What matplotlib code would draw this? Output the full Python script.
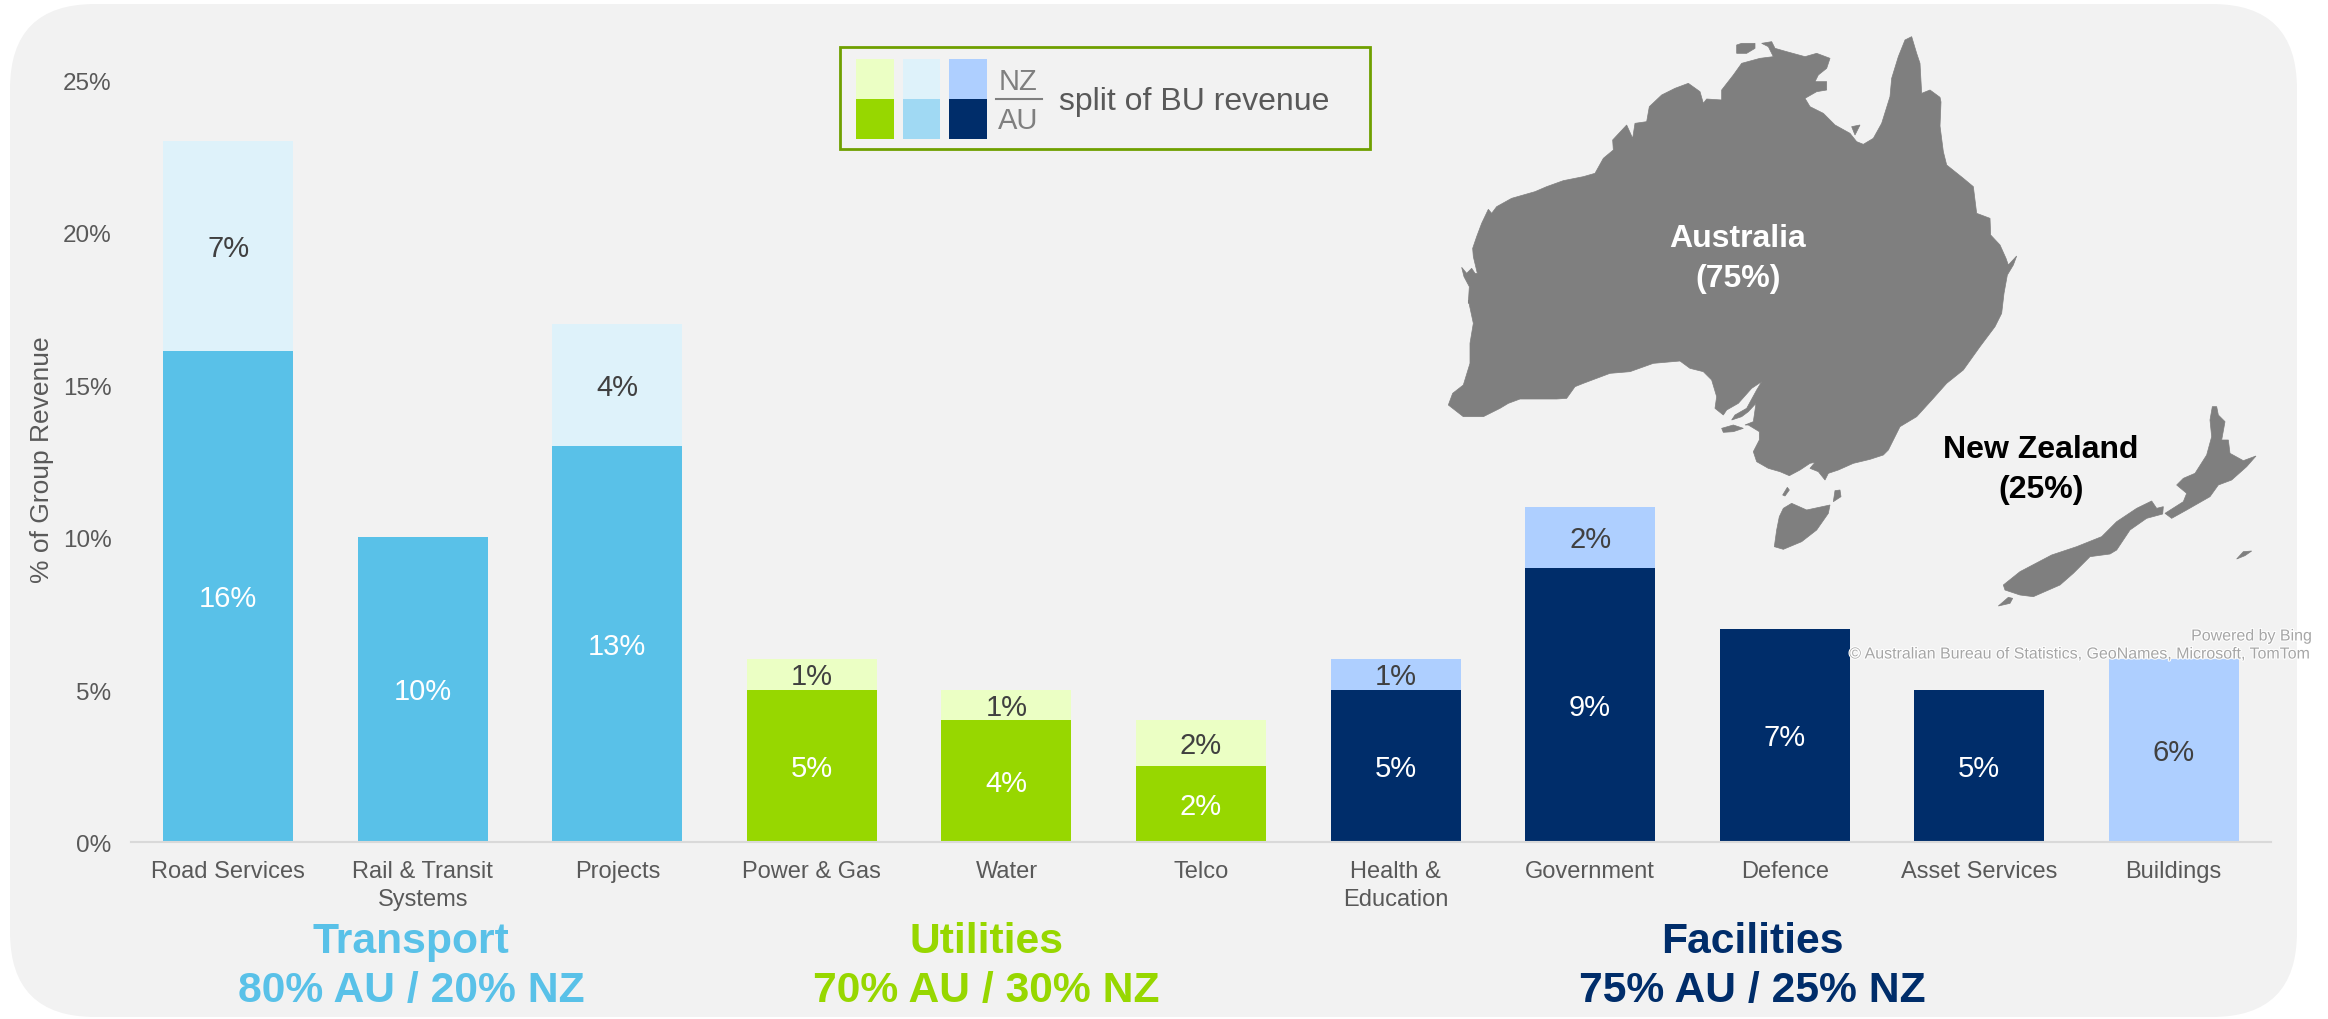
import numpy as np
import matplotlib
matplotlib.use('Agg')
import matplotlib.pyplot as plt
from matplotlib.patches import FancyBboxPatch, Polygon, Rectangle
from matplotlib.transforms import ScaledTranslation
import matplotlib.patheffects as pe

plt.rcParams['font.family'] = ['Liberation Sans', 'DejaVu Sans']

W, H = 2328, 1019

# Chart data
categories = ['Road Services', 'Rail & Transit\nSystems', 'Projects', 'Power & Gas', 'Water', 'Telco',
              'Health &\nEducation', 'Government', 'Defence', 'Asset Services', 'Buildings']
au_values = [16.1, 10, 13, 5, 4, 2.5, 5, 9, 7, 5, 0]
nz_values = [6.9, 0, 4, 1, 1, 1.5, 1, 2, 0, 0, 6]
au_labels = ['16%', '10%', '13%', '5%', '4%', '2%', '5%', '9%', '7%', '5%', '']
nz_labels = ['7%', '', '4%', '1%', '1%', '2%', '1%', '2%', '', '', '6%']
au_colors = ['#59C1E8'] * 3 + ['#97D700'] * 3 + ['#002D6A'] * 5
nz_colors = ['#DEF2FA'] * 3 + ['#EBFFC4'] * 3 + ['#AECFFF'] * 5
y_ticks = [0, 5, 10, 15, 20, 25]

groups = ['Transport', 'Utilities', 'Facilities']
group_splits = ['80% AU / 20% NZ', '70% AU / 30% NZ', '75% AU / 25% NZ']
group_colors = ['#59C1E8', '#97D700', '#002D6A']
group_x = [411, 986, 1752]

aus_north = [(85, 880), (88, 830), (72, 800), (65, 772), (80, 790), (95, 775), (105, 790), (112, 790), (100, 740),
             (98, 715), (110, 680), (125, 640), (145, 598), (155, 610), (170, 590), (215, 565), (285, 545),
             (320, 530), (370, 512), (430, 500), (465, 490), (490, 445), (520, 420), (518, 390), (560, 345),
             (578, 385), (585, 340), (620, 335), (628, 290), (665, 255), (705, 235), (745, 220), (780, 245),
             (790, 280), (800, 267), (845, 270), (845, 240), (880, 195), (905, 160), (960, 145), (1000, 140),
             (985, 110), (965, 100), (995, 95), (1005, 115), (1040, 125), (1095, 140), (1130, 130), (1170, 145),
             (1160, 175), (1135, 195), (1125, 215), (1160, 215), (1160, 240), (1130, 245), (1095, 265),
             (1110, 290), (1150, 310), (1185, 345), (1230, 370), (1250, 395), (1270, 403), (1300, 385),
             (1325, 340), (1350, 260), (1355, 205), (1375, 140), (1395, 90), (1415, 80), (1430, 130), (1440, 160),
             (1445, 250), (1470, 240), (1500, 262)]
aus_east = [(423, -144), (420, -72), (430, 5), (440, 45), (490, 85), (520, 110), (530, 190), (570, 205), (572, 255),
            (600, 285), (618, 325), (625, 345), (650, 318), (640, 345), (622, 375), (612, 430), (605, 490),
            (585, 530), (540, 590), (490, 660), (440, 700), (400, 745), (350, 800), (300, 830), (265, 900)]
aus_south = [(1330, 465), (1290, 478), (1240, 490), (1195, 510), (1165, 520), (1155, 540), (1135, 515), (1110, 505),
             (1125, 487), (1110, 490), (1080, 510), (1048, 527), (1020, 515), (985, 505), (950, 485), (940, 455),
             (958, 420), (958, 395), (925, 375), (915, 375), (940, 365), (948, 310), (925, 335), (905, 350),
             (875, 360), (885, 345), (920, 325), (950, 270), (965, 245), (935, 265), (895, 310), (860, 330),
             (850, 345), (825, 325), (830, 290), (815, 240), (790, 215), (750, 205), (720, 183), (640, 190),
             (570, 215), (510, 220), (430, 250), (405, 260), (380, 295), (350, 297), (310, 297), (240, 297),
             (205, 310), (180, 325), (130, 350), (70, 350), (25, 315), (38, 280), (70, 255), (90, 190), (90, 130),
             (100, 70), (85, 0)]
melville = [(890, 105), (905, 100), (945, 100), (945, 115), (920, 130), (890, 130)]
groote = [(1235, 350), (1260, 345), (1245, 375)]
kangaroo = [(845, 385), (880, 375), (910, 385), (880, 395), (850, 397)]
tasmania = [(1030, 625), (1055, 610), (1100, 630), (1170, 615), (1165, 640), (1130, 690), (1085, 725), (1030, 748),
            (1003, 740), (1010, 690), (1018, 650)]
king_island = [(1028, 585), (1042, 562), (1048, 570), (1035, 588)]
flinders = [(1180, 605), (1185, 572), (1200, 570), (1203, 590)]
nz_north = [(697, 50), (710, 50), (715, 75), (735, 95), (725, 150), (745, 150), (750, 190), (790, 212), (828, 198),
            (800, 230), (755, 270), (715, 285), (690, 320), (620, 360), (575, 385), (555, 370), (610, 335),
            (620, 310), (590, 285), (610, 265), (645, 250), (680, 195), (695, 140), (690, 90)]
nz_south = [(515, 333), (530, 355), (550, 350), (548, 372), (500, 385), (450, 420), (410, 480), (390, 492),
            (330, 500), (280, 550), (240, 585), (160, 620), (120, 615), (75, 600), (70, 585), (120, 545),
            (215, 495), (290, 470), (365, 440), (410, 395), (470, 355)]
stewart = [(55, 648), (85, 622), (98, 625), (90, 640)]
chatham = [(770, 507), (790, 485), (815, 483), (795, 497)]


def crop_to_full(points, left, top):
    return [(left + px / 3, top + py / 3) for px, py in points]


mainland = (crop_to_full(aus_north, 1440, 10) + crop_to_full(aus_east, 1800, 150)
            + crop_to_full(aus_south, 1440, 300))
land = [mainland]
land += [crop_to_full(s, 1440, 10) for s in [melville, groote]]
land += [crop_to_full(s, 1440, 300) for s in [kangaroo, tasmania, king_island, flinders]]
land += [crop_to_full(s, 1980, 390) for s in [nz_north, nz_south, stewart, chatham]]

fig = plt.figure(figsize=(W / 100, H / 100), dpi=100, facecolor='white')

# Background layer in pixel coordinates
bg = fig.add_axes([0, 0, 1, 1])
bg.set_xlim(0, W)
bg.set_ylim(H, 0)
bg.axis('off')
bg.add_patch(FancyBboxPatch((95, 89), 2117, 843, boxstyle='round,pad=85,rounding_size=85',
                            fc='#F2F2F2', ec='none'))
for shape in land:
    bg.add_patch(Polygon(shape, closed=True, fc='#7F7F7F', ec='#7F7F7F', lw=0.5))

# Bars
ax = fig.add_axes([131 / W, 1 - 842 / H, (2271 - 131) / W, (842 - 80) / H])
ax.patch.set_alpha(0)
x = np.arange(len(categories))
ax.bar(x, au_values, width=0.668, color=au_colors)
ax.bar(x, nz_values, width=0.668, bottom=au_values, color=nz_colors)
ax.set_xlim(-0.5, len(categories) - 0.5)
ax.set_ylim(0, 25)
ax.set_xticks(x)
ax.set_xticklabels(categories, fontsize=17, color='#595959', linespacing=1.3)
ax.set_yticks(y_ticks)
ax.set_yticklabels([f'{v}%' for v in y_ticks], fontsize=17.5, color='#595959')
ax.tick_params(axis='x', length=0, pad=14)
ax.tick_params(axis='y', length=0, pad=14)
nudge = ScaledTranslation(0, -1.5 / 100, fig.dpi_scale_trans)
for label in ax.get_yticklabels():
    label.set_transform(label.get_transform() + nudge)
for side in ['top', 'right', 'left']:
    ax.spines[side].set_visible(False)
ax.spines['bottom'].set_color('#D9D9D9')
ax.spines['bottom'].set_linewidth(1.5)

for i in x:
    if au_labels[i]:
        ax.annotate(au_labels[i], (i, au_values[i] / 2), xytext=(0, -2), textcoords='offset points',
                    ha='center', va='center', fontsize=21, color='white')
    if nz_labels[i]:
        ax.annotate(nz_labels[i], (i, au_values[i] + nz_values[i] / 2), xytext=(0, -2), textcoords='offset points',
                    ha='center', va='center', fontsize=21, color='#404040')

# Everything else on top, in pixel coordinates
top = fig.add_axes([0, 0, 1, 1])
top.set_xlim(0, W)
top.set_ylim(H, 0)
top.axis('off')
top.patch.set_alpha(0)

top.text(42, 460, '% of Group Revenue', rotation=90, ha='center', va='center', fontsize=19, color='#595959')

for name, split, color, gx in zip(groups, group_splits, group_colors, group_x):
    top.text(gx, 942, name, ha='center', va='center', fontsize=30.7, fontweight='bold', color=color)
    top.text(gx, 991, split, ha='center', va='center', fontsize=30.7, fontweight='bold', color=color)

# Legend box
top.add_patch(Rectangle((840, 47), 530, 102, fc='none', ec='#6FA000', lw=2))
for left, width, nz_c, au_c in [(856, 38, '#EBFFC4', '#97D700'), (903, 37, '#DEF2FA', '#A0D9F3'),
                                (949, 38, '#AECFFF', '#002D6A')]:
    top.add_patch(Rectangle((left, 59), width, 40, fc=nz_c, ec='none'))
    top.add_patch(Rectangle((left, 99), width, 40, fc=au_c, ec='none'))
top.plot([996, 1042], [99, 99], color='#7F7F7F', lw=1.5)
top.text(1018, 82, 'NZ', ha='center', va='center', fontsize=21, color='#7F7F7F')
top.text(1018, 121, 'AU', ha='center', va='center', fontsize=21, color='#7F7F7F')
top.text(1059, 102, 'split of BU revenue', ha='left', va='center', fontsize=23, color='#595959')

# Map labels
top.text(1738, 239, 'Australia', ha='center', va='center', fontsize=23, fontweight='bold', color='white')
top.text(1738, 279, '(75%)', ha='center', va='center', fontsize=23, fontweight='bold', color='white')
top.text(2041, 450, 'New Zealand', ha='center', va='center', fontsize=23, fontweight='bold', color='black')
top.text(2041, 490, '(25%)', ha='center', va='center', fontsize=23, fontweight='bold', color='black')

halo = [pe.withStroke(linewidth=1.5, foreground='white')]
top.text(2312, 636, 'Powered by Bing', ha='right', va='center', fontsize=11.5, color='#A6A6A6', path_effects=halo)
top.text(2311, 654, '© Australian Bureau of Statistics, GeoNames, Microsoft, TomTom', ha='right', va='center',
         fontsize=11.5, color='#A6A6A6', path_effects=halo)

fig.savefig('out.png', dpi=100)
